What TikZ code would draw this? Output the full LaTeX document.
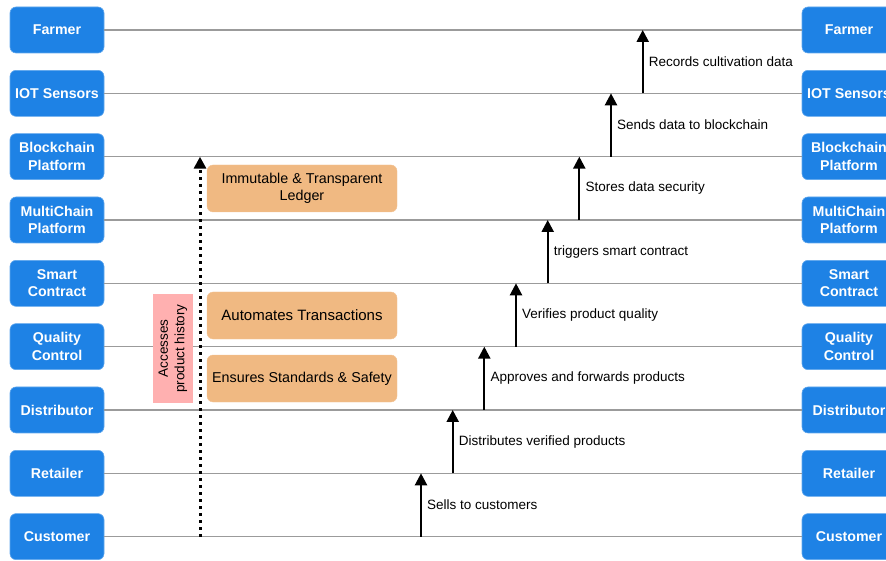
\documentclass[tikz,border=0pt]{standalone}
\usepackage{fontspec}
\setmainfont{Liberation Sans}
\usetikzlibrary{arrows.meta}
\definecolor{actorblue}{RGB}{30,130,229}
\definecolor{noteorange}{RGB}{240,185,130}
\definecolor{notepink}{RGB}{255,176,176}
\definecolor{lifegray}{RGB}{155,155,155}
\begin{document}
\begin{tikzpicture}[x=1pt,y=-1pt,
  actor/.style={draw=actorblue!70!white, line width=0.6pt, fill=actorblue, rounded corners=6pt,
    minimum width=94pt, minimum height=46pt, inner sep=0pt, align=center, text=white,
    font=\fontsize{14.2}{17.5}\selectfont\bfseries},
  lifeline/.style={draw=lifegray, line width=1.3pt},
  msg/.style={draw=black, line width=2.3pt, -{Triangle[width=12pt,length=12pt]}},
  msglabel/.style={anchor=west, inner sep=0pt, font=\fontsize{13.5}{16}\selectfont},
  note/.style={fill=noteorange, draw=noteorange!85!white, rounded corners=6pt, minimum width=190pt,
    minimum height=47pt, inner sep=2pt, align=center, font=\fontsize{14.3}{17.5}\selectfont},
  access/.style={draw=black, line width=3pt, dash pattern=on 3pt off 4pt,
    -{Triangle[width=12pt,length=12pt]}}]
\useasboundingbox (0,0) rectangle (886,561);
\clip (0,0) rectangle (886,561);
% actors
\foreach \i/\t in {1/Farmer,2/IOT Sensors,3/Blockchain\\Platform,4/MultiChain\\Platform,
  5/Smart\\Contract,6/Quality\\Control,7/Distributor,8/Retailer,9/Customer}{
  \node[actor] (L\i) at (57,{30+63.33*(\i-1)}) {\t};
  \node[actor] (R\i) at (849,{30+63.33*(\i-1)}) {\t};
  \draw[lifeline] (L\i.east) -- (R\i.west);
}
% notes
\node[note] (n1) at (302,188.5) {Immutable \& Transparent\\Ledger};
\node[note, font=\fontsize{15}{18}\selectfont] (n2) at (302,315.5) {Automates Transactions};
\node[note] (n3) at (302,378.5) {Ensures Standards \& Safety};
\node[fill=notepink, minimum width=40pt, minimum height=109pt, inner sep=0pt] (pk) at (173,348.5) {};
\node[rotate=90, align=center, inner sep=0pt, font=\fontsize{13.5}{16.5}\selectfont] (pt) at (pk.center) {Accesses\\product history};
% access arrow
\coordinate (acs) at (200,536.7);
\coordinate (ace) at (200,156.7);
\draw[access] (acs) -- (ace);
% messages
\foreach \k/\x/\t in {9/421/Sells to customers,8/452.7/Distributes verified products,
  7/484.3/Approves and forwards products,6/516/Verifies product quality,
  5/547.7/triggers smart contract,4/579.3/Stores data security,
  3/611/Sends data to blockchain,2/642.7/Records cultivation data}{
  \pgfmathsetmacro{\ys}{30+63.33*(\k-1)}
  \pgfmathsetmacro{\ye}{30+63.33*(\k-2)}
  \coordinate (m\k s) at (\x,\ys);
  \coordinate (m\k e) at (\x,\ye);
  \draw[msg] (m\k s) -- (m\k e);
  \node[msglabel] (ml\k) at ({\x+6},{(\ys+\ye)/2}) {\t};
}
\end{tikzpicture}
\end{document}
